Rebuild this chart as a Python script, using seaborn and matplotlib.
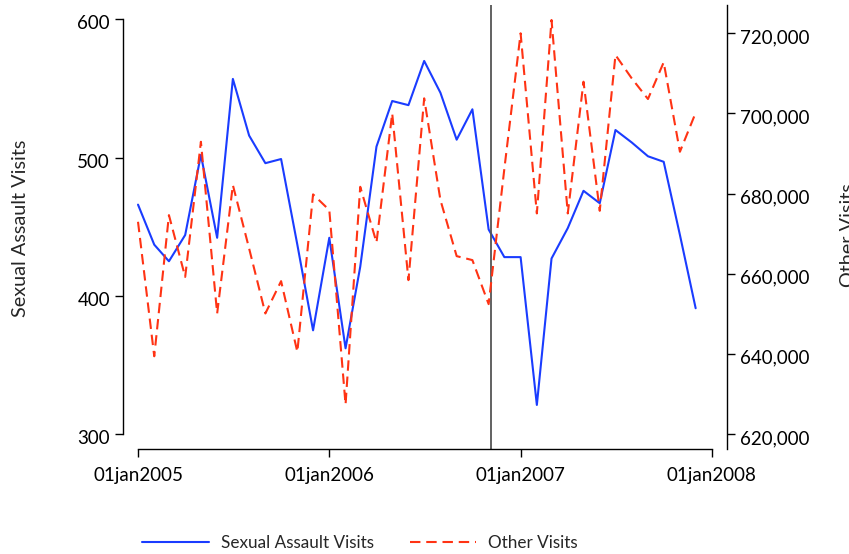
import pandas as pd
import seaborn as sns
import matplotlib.pyplot as plt
import matplotlib.dates as mdates
from matplotlib.lines import Line2D
from matplotlib.transforms import ScaledTranslation

# monthly visits, jan 2005 - dec 2007
months = pd.date_range("2005-01-01", "2007-12-01", freq="MS")
sexual_assault = [466, 437, 425, 444, 502, 442, 557, 516, 496, 499, 437, 375,
                  442, 362, 421, 508, 541, 538, 570, 547, 513, 535, 448, 428,
                  428, 321, 427, 449, 476, 467, 520, 511, 501, 497, 444, 391]
other_visits = [672960, 639400, 674630, 659200, 692930, 650080, 682120, 666300, 650080, 658150, 640500, 679800,
                675880, 627360, 681700, 667800, 700020, 658400, 703770, 678400, 664390, 663400, 652410, 686200,
                720000, 675050, 723320, 675050, 707920, 675700, 714580, 708760, 703600, 712760, 690440, 700170]
xtick_dates = pd.to_datetime(["2005-01-01", "2006-01-01", "2007-01-01", "2008-01-01"])
left_ticks = [300, 400, 500, 600]
right_ticks = [620000, 640000, 660000, 680000, 700000, 720000]
cutoff = pd.Timestamp("2006-11-05")

df = pd.DataFrame({"month": months, "sa": sexual_assault, "other": other_visits})

sns.set_style("ticks")
plt.rcParams['font.family'] = ['Lato', 'DejaVu Sans']
plt.rcParams['font.size'] = 13.5

blue = "#1a3cff"
red = "#ff3314"

fig = plt.figure(figsize=(8.49, 5.54), dpi=100)
ax = fig.add_axes([0.1449, 0.1895, 0.7114, 0.8015])
ax2 = ax.twinx()

sns.lineplot(data=df, x="month", y="sa", ax=ax, color=blue, linewidth=1.5)
sns.lineplot(data=df, x="month", y="other", ax=ax2, color=red, linewidth=1.5)
ax2.lines[0].set_dashes((5, 2.8))
ax.axvline(cutoff, color="#555555", linewidth=1.3)

start = pd.Timestamp("2005-01-01")
ax.set_xlim(start - pd.Timedelta(days=28.6), start + pd.Timedelta(days=1123.8))
ax.set_ylim(289.1, 610.5)
ax2.set_ylim(616255, 727066)

ax.set_xticks(xtick_dates)
ax.set_xticklabels([d.strftime("%d%b%Y").lower() for d in xtick_dates])
ax.set_yticks(left_ticks)
ax2.set_yticks(right_ticks)
ax2.set_yticklabels([f"{v:,}" for v in right_ticks])

ax.set_xlabel("")
ax.set_ylabel("")
ax2.set_ylabel("")

for a in (ax, ax2):
    a.spines["top"].set_visible(False)
    for s in a.spines.values():
        s.set_linewidth(1.0)
        s.set_color("black")
    a.tick_params(length=5.8, width=1.0, colors="black", labelsize=13.5)
ax.spines["right"].set_visible(False)
ax2.spines["left"].set_visible(False)
ax2.spines["bottom"].set_visible(False)
ax.spines["left"].set_bounds(300, 600)
ax.spines["bottom"].set_bounds(mdates.date2num(xtick_dates[0]), mdates.date2num(xtick_dates[-1]))
ax.tick_params(axis="y", pad=3.6)
ax.tick_params(axis="x", pad=7.5)
ax2.tick_params(axis="y", pad=3.6)

# stata puts the y labels a bit below the tick
shift = ScaledTranslation(0, -3 / 100, fig.dpi_scale_trans)
for lab in ax.get_yticklabels() + ax2.get_yticklabels():
    lab.set_transform(lab.get_transform() + shift)

fig.text(12.5 / 849, 1 - 228.5 / 554, "Sexual Assault Visits", rotation=90,
         ha="left", va="center", fontsize=14.3)
# right title runs off the edge like in the original export
fig.text(840 / 849, 1 - 287 / 554, "Other Visits", rotation=90,
         ha="left", va="bottom", fontsize=14.3)

handles = [Line2D([], [], color=blue, linewidth=1.5),
           Line2D([], [], color=red, linewidth=1.5, dashes=(5, 2.8))]
fig.legend(handles, ["Sexual Assault Visits", "Other Visits"], loc="center",
           bbox_to_anchor=(360 / 849, 1 - 543 / 554), ncol=2, frameon=False,
           fontsize=12.3, handlelength=3.9, handletextpad=0.7, columnspacing=2.1)

fig.savefig("out.png", dpi=100)
